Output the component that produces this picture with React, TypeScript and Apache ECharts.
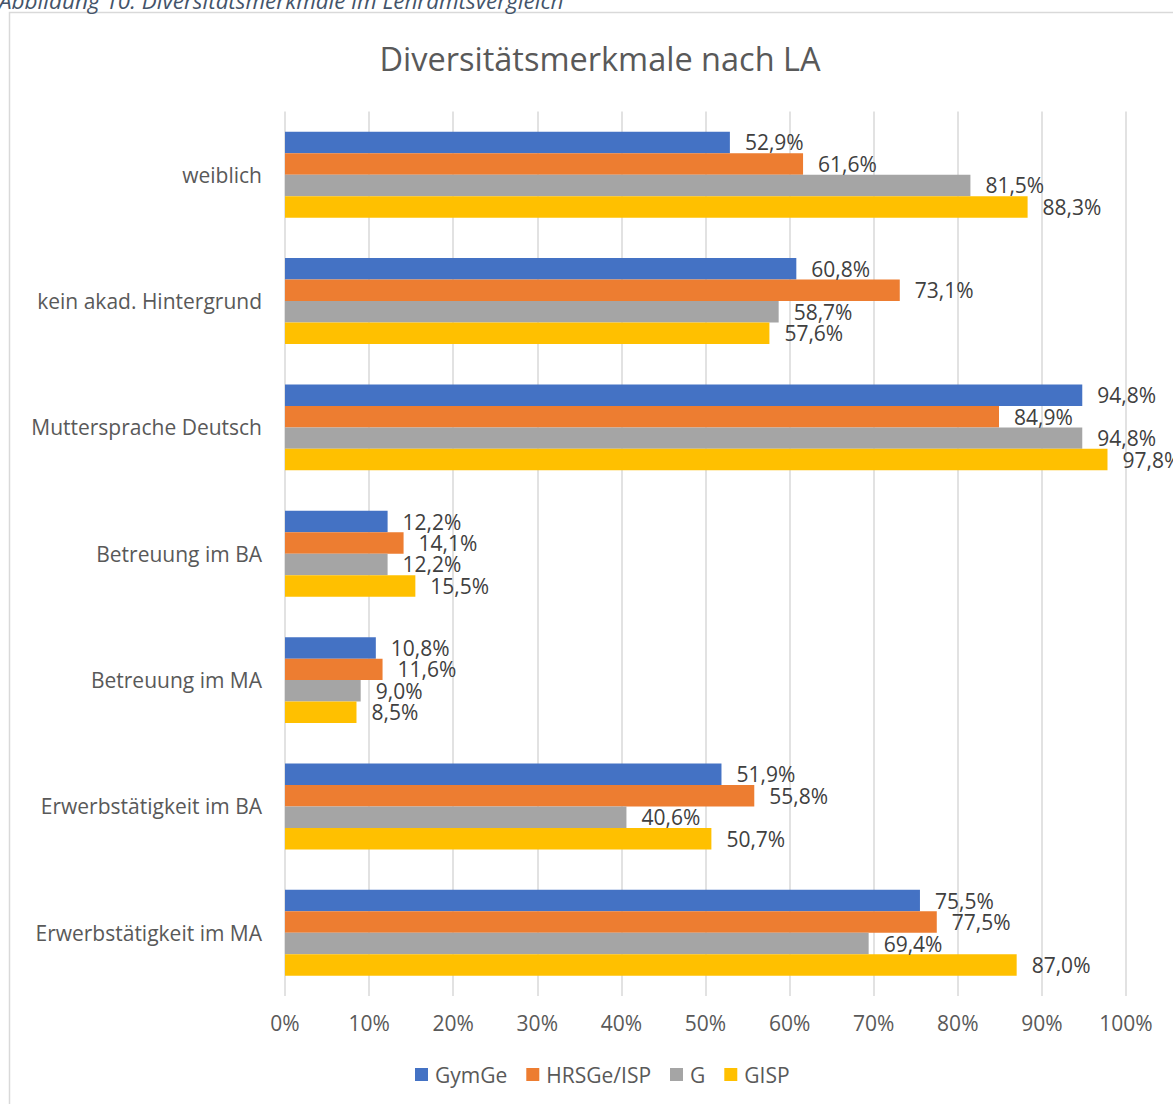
import React, { useEffect, useRef } from "react";
import * as echarts from "echarts";

const categories = [
  "weiblich",
  "kein akad. Hintergrund",
  "Muttersprache Deutsch",
  "Betreuung im BA",
  "Betreuung im MA",
  "Erwerbstätigkeit im BA",
  "Erwerbstätigkeit im MA",
];
const seriesNames = ["GymGe", "HRSGe/ISP", "G", "GISP"];
const gymGe = [52.9, 60.8, 94.8, 12.2, 10.8, 51.9, 75.5];
const hrsGeIsp = [61.6, 73.1, 84.9, 14.1, 11.6, 55.8, 77.5];
const g = [81.5, 58.7, 94.8, 12.2, 9.0, 40.6, 69.4];
const gisp = [88.3, 57.6, 97.8, 15.5, 8.5, 50.7, 87.0];
const colors = ["#4472C4", "#ED7D31", "#A5A5A5", "#FFC000"];
const titleText = "Diversitätsmerkmale nach LA";
const captionText = "Abbildung 10: Diversitätsmerkmale im Lehramtsvergleich";

const FONT = "'Open Sans', sans-serif";

export default function App() {
  const ref = useRef<HTMLDivElement>(null);
  useEffect(() => {
    if (!ref.current) return;
    const chart = echarts.init(ref.current, null, { renderer: "svg" });
    const values = [gymGe, hrsGeIsp, g, gisp];
    chart.setOption({
      animation: false,
      backgroundColor: "#ffffff",
      textStyle: { fontFamily: FONT },
      title: {
        text: titleText,
        left: 595,
        textAlign: "center",
        top: 37,
        textStyle: { fontSize: 32.5, fontWeight: "normal", color: "#595959", fontFamily: FONT },
      },
      graphic: [
        {
          type: "rect",
          shape: { x: 9.5, y: 12.5, width: 1200, height: 1200 },
          style: { fill: "none", stroke: "#D9D9D9", lineWidth: 1.5 },
          silent: true,
          z: -1,
        },
        {
          type: "text",
          x: -1,
          y: -11,
          style: {
            text: captionText,
            font: "italic 22.5px 'Open Sans', sans-serif",
            fill: "#44546A",
            textVerticalAlign: "top",
          },
        },
      ],
      legend: {
        data: seriesNames,
        bottom: 14,
        left: 410,
        itemWidth: 13,
        itemHeight: 13,
        itemGap: 19,
        icon: "rect",
        textStyle: { fontSize: 21, color: "#595959", fontFamily: FONT, padding: [0, 0, 0, 2] },
      },
      grid: { left: 285, right: 1173 - 1126, top: 111.5, bottom: 1104 - 996, containLabel: false },
      xAxis: {
        type: "value",
        min: 0,
        max: 100,
        interval: 10,
        axisLabel: {
          formatter: (v: number) => v + "%",
          fontSize: 21,
          color: "#595959",
          margin: 16,
          fontFamily: FONT,
        },
        axisLine: { show: false },
        axisTick: { show: false },
        splitLine: { lineStyle: { color: "#D9D9D9", width: 1.5 } },
      },
      yAxis: {
        type: "category",
        data: categories,
        inverse: true,
        axisLabel: { fontSize: 21, color: "#595959", margin: 23, fontFamily: FONT },
        axisLine: { show: false },
        axisTick: { show: false },
      },
      series: seriesNames.map((name, i) => ({
        name,
        type: "bar",
        data: values[i],
        barGap: "0%",
        barCategoryGap: "32%",
        itemStyle: { color: colors[i] },
        label: {
          show: true,
          position: "right",
          distance: 15,
          fontSize: 21,
          color: "#404040",
          fontFamily: FONT,
          formatter: (p: any) => p.value.toFixed(1).replace(".", ",") + "%",
        },
      })),
    });
    return () => chart.dispose();
  }, []);
  return (
    <div
      ref={ref}
      style={{ position: "fixed", left: 0, top: 0, width: 1173, height: 1104 }}
    />
  );
}
